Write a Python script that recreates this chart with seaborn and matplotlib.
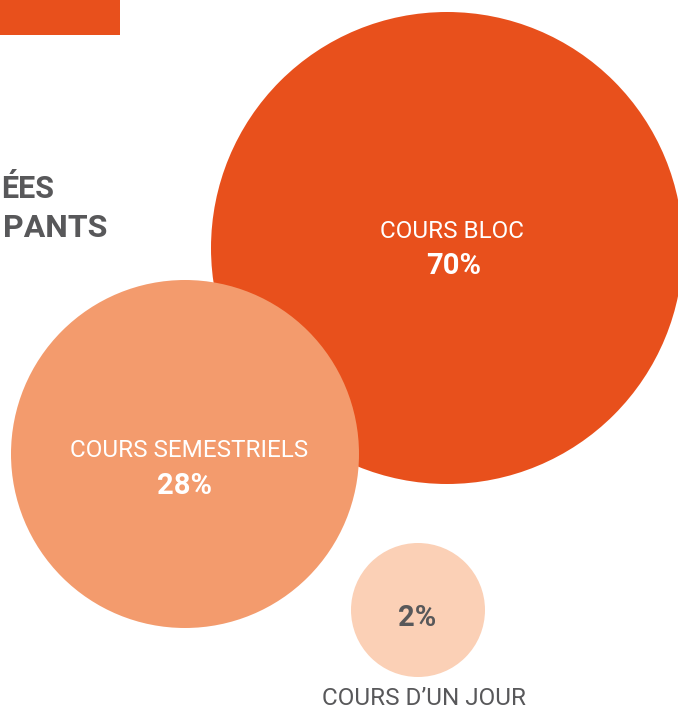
"""Bubble chart: share of course days by course type."""

import matplotlib
matplotlib.use("Agg")
import matplotlib.pyplot as plt
import pandas as pd
import seaborn as sns

# data
categories = ["COURS BLOC", "COURS SEMESTRIELS", "COURS D\u2019UN JOUR"]
shares = [70, 28, 2]
colors = ["#E8501C", "#F39B6D", "#FBD0B6"]
title_tails = ["ÉES", "PANTS"]   # only the ends of the title show in the crop

# layout (pixels, figure is 678 x 709 at dpi 100)
DPI = 100
W, H = 678, 709
centers_x = [447, 185, 418]
centers_y = [248, 454, 610]
radii = [236, 174, 67]
GRAY = "#58585A"

sns.set_theme(style="white")
plt.rcParams["font.family"] = ["Roboto", "DejaVu Sans"]

dfrm = pd.DataFrame({"cat": categories, "share": shares,
                     "x": centers_x, "y": centers_y})
sizes = {c: (2 * r * 72 / DPI) ** 2 for c, r in zip(categories, radii)}

fig = plt.figure(figsize=(W / DPI, H / DPI), dpi=DPI)
ax = fig.add_axes([0, 0, 1, 1])
sns.scatterplot(data=dfrm, x="x", y="y", hue="cat", size="cat",
                palette=dict(zip(categories, colors)), sizes=sizes,
                linewidth=0, alpha=1, legend=False, ax=ax, zorder=2)
ax.set_xlim(0, W)
ax.set_ylim(H, 0)
ax.axis("off")

# orange header bar and the visible end of the title
ax.add_patch(plt.Rectangle((0, 0), 120, 35, color=colors[0], lw=0, zorder=1))
ax.text(1, 198, title_tails[0], ha="left", va="baseline", fontsize=22,
        fontweight="bold", color=GRAY)
ax.text(107, 237, title_tails[1], ha="right", va="baseline", fontsize=23,
        fontweight="bold", color=GRAY)

# labels
txt = dict(ha="center", va="baseline", zorder=3)
ax.text(451.5, 238, categories[0], fontsize=17.5, color="white", **txt)
ax.text(454, 274, f"{shares[0]}%", fontsize=21, fontweight="bold",
        color="white", **txt)
ax.text(189.5, 457, categories[1], fontsize=17.5, color="white", **txt)
ax.text(185, 494, f"{shares[1]}%", fontsize=21, fontweight="bold",
        color="white", **txt)
ax.text(417.5, 626, f"{shares[2]}%", fontsize=21, fontweight="bold",
        color=GRAY, **txt)
ax.text(424, 705, categories[2], fontsize=17.5, color=GRAY, **txt)

fig.savefig("out.png", dpi=DPI)
